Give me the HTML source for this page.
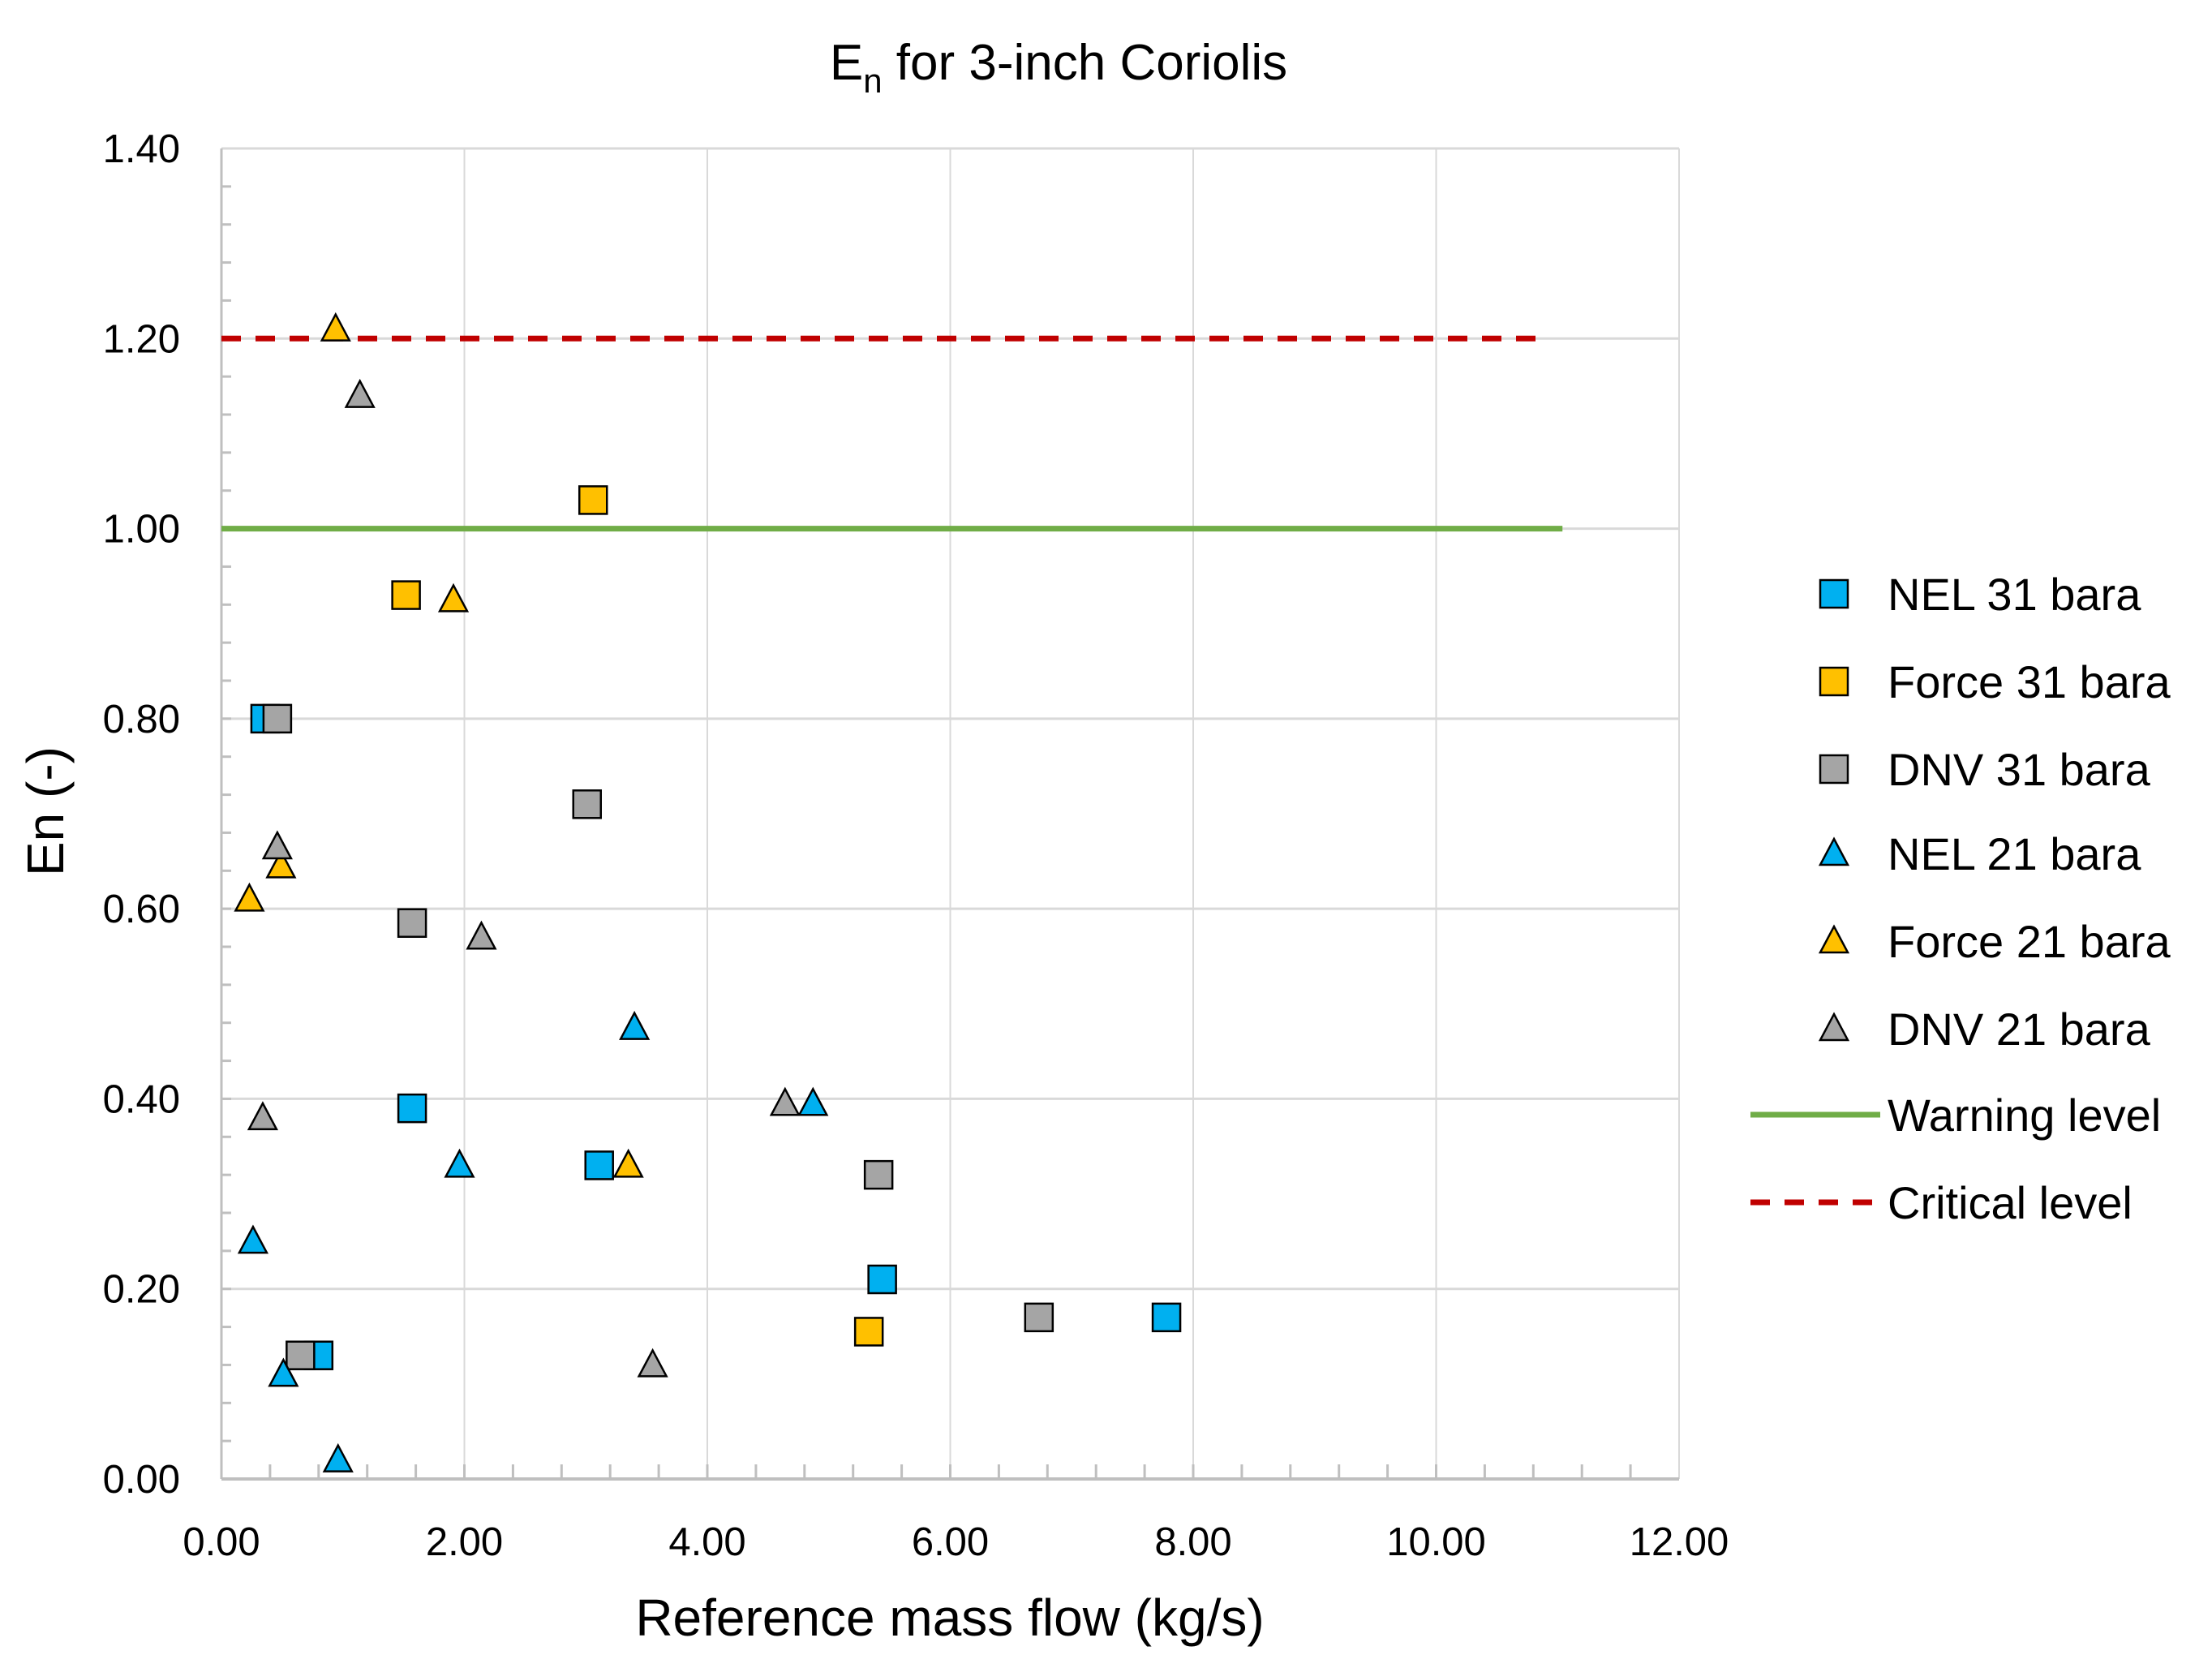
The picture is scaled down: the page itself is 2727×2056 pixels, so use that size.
<!DOCTYPE html>
<html><head><meta charset="utf-8"><style>
html,body{margin:0;padding:0;background:#fff}
svg{display:block;font-family:"Liberation Sans",sans-serif}
</style></head><body>
<svg id="chart" width="2727" height="2056" viewBox="0 0 2727 2056" xmlns="http://www.w3.org/2000/svg">
<text x="1305" y="98" text-anchor="middle" font-size="62">E<tspan font-size="42" dy="16">n</tspan><tspan dy="-16"> for 3-inch Coriolis</tspan></text>
<g id="grid"></g>
<g id="axes"></g>
<g id="lines"></g>
<g id="marks"></g>
<g id="legend"></g>
<text x="1171" y="2016" text-anchor="middle" font-size="64">Reference mass flow (kg/s)</text>
<text transform="translate(78,1000) rotate(-90)" text-anchor="middle" font-size="64">En (-)</text>
</svg>
<script>
const xTicks = [0,2,4,6,8,10,12];
const yTicks = [0,0.2,0.4,0.6,0.8,1.0,1.2,1.4];
const nel31X = [0.36,0.80,1.57,3.11,5.44,7.78];
const nel31Y = [0.80,0.13,0.39,0.33,0.21,0.17];
const force31X = [1.52,3.06,5.33];
const force31Y = [0.93,1.03,0.155];
const dnv31X = [0.46,0.65,1.57,3.01,5.41,6.73];
const dnv31Y = [0.80,0.13,0.585,0.71,0.32,0.17];
const nel21X = [0.26,0.51,0.96,1.96,3.40,4.87];
const nel21Y = [0.25,0.11,0.02,0.33,0.475,0.395];
const force21X = [0.94,0.23,0.49,1.91,3.35];
const force21Y = [1.21,0.61,0.645,0.925,0.33];
const dnv21X = [1.14,0.46,0.34,2.14,3.55,4.64];
const dnv21Y = [1.14,0.665,0.38,0.57,0.12,0.395];
const warningLevel = 1.0, warningEnd = 11.04;
const criticalLevel = 1.2, criticalEnd = 10.9;

const NS="http://www.w3.org/2000/svg";
const X0=273,X1=2070,Y0=1823,Y1=183;
const sx=v=>X0+(v/12)*(X1-X0);
const sy=v=>Y0-(v/1.4)*(Y0-Y1);
function mk(tag,attrs,parent){const e=document.createElementNS(NS,tag);for(const k in attrs)e.setAttribute(k,attrs[k]);parent.appendChild(e);return e;}
const grid=document.getElementById('grid'),axes=document.getElementById('axes'),lines=document.getElementById('lines'),marks=document.getElementById('marks'),legend=document.getElementById('legend');

yTicks.forEach(t=>{
  const l=mk('line',{x1:X0,x2:X1,y1:sy(t),y2:sy(t),stroke:'#d9d9d9','stroke-width':3},grid);
  
  
  const tx=mk('text',{x:222,y:sy(t)+17,'text-anchor':'end','font-size':49},axes);
  tx.textContent=t.toFixed(2);
  
  
});
xTicks.forEach(t=>{
  if(t>0){const l=mk('line',{x1:sx(t),x2:sx(t),y1:Y1,y2:Y0,stroke:'#d9d9d9','stroke-width':2},grid);
  
  }
  const tx=mk('text',{x:sx(t),y:1917,'text-anchor':'middle','font-size':49},axes);
  tx.textContent=t.toFixed(2);
  
  
});
for(let v=0.04;v<1.4;v+=0.04){mk('line',{x1:X0,x2:X0+12,y1:sy(v),y2:sy(v),stroke:'#bfbfbf','stroke-width':3},axes);}
for(let v=0.4;v<12;v+=0.4){mk('line',{x1:sx(v),x2:sx(v),y1:Y0,y2:Y0-18,stroke:'#bfbfbf','stroke-width':3},axes);}
mk('line',{x1:X0,x2:X0,y1:Y1,y2:Y0,stroke:'#bfbfbf','stroke-width':3},axes);
mk('line',{x1:X0,x2:X1,y1:Y0,y2:Y0,stroke:'#bfbfbf','stroke-width':4},axes);

const w=mk('line',{x1:sx(0),x2:sx(warningEnd),y1:sy(warningLevel),y2:sy(warningLevel),stroke:'#70ad47','stroke-width':7},lines);


const c=mk('line',{x1:sx(0),x2:sx(criticalEnd),y1:sy(criticalLevel),y2:sy(criticalLevel),stroke:'#c00000','stroke-width':7,'stroke-dasharray':'24 18'},lines);



function square(x,y,fill,p){return mk('rect',{x:x-17,y:y-17,width:34,height:34,fill:fill,stroke:'#000','stroke-width':2.5},p);}
function tri(x,y,fill,p){return mk('path',{d:`M${x},${y-18} L${x+17},${y+14} L${x-17},${y+14} Z`,fill:fill,stroke:'#000','stroke-width':2.5},p);}
const series=[
 ['nel-31',nel31X,nel31Y,'#00b0f0',square,'NEL 31 bara'],
 ['force-31',force31X,force31Y,'#ffc000',square,'Force 31 bara'],
 ['dnv-31',dnv31X,dnv31Y,'#a5a5a5',square,'DNV 31 bara'],
 ['nel-21',nel21X,nel21Y,'#00b0f0',tri,'NEL 21 bara'],
 ['force-21',force21X,force21Y,'#ffc000',tri,'Force 21 bara'],
 ['dnv-21',dnv21X,dnv21Y,'#a5a5a5',tri,'DNV 21 bara']];
const legY=[732,840,948,1052,1160,1268,1374,1482];
series.forEach((s,i)=>{
  s[1].forEach((xv,j)=>{const e=s[4](sx(xv),sy(s[2][j]),s[3],marks);
    
    });
  const m=s[4](2261,legY[i],s[3],legend);
  
  
  const t=mk('text',{x:2327,y:legY[i]+20,'font-size':56},legend);
  t.textContent=s[5];
  
  
});
mk('line',{x1:2158,x2:2318,y1:legY[6],y2:legY[6],stroke:'#70ad47','stroke-width':7},legend);
const lw=mk('text',{x:2327,y:legY[6]+20,'font-size':56},legend);lw.textContent='Warning level';


mk('line',{x1:2158,x2:2318,y1:legY[7],y2:legY[7],stroke:'#c00000','stroke-width':7,'stroke-dasharray':'24 18'},legend);
const lc=mk('text',{x:2327,y:legY[7]+20,'font-size':56},legend);lc.textContent='Critical level';


</script>
</body></html>
